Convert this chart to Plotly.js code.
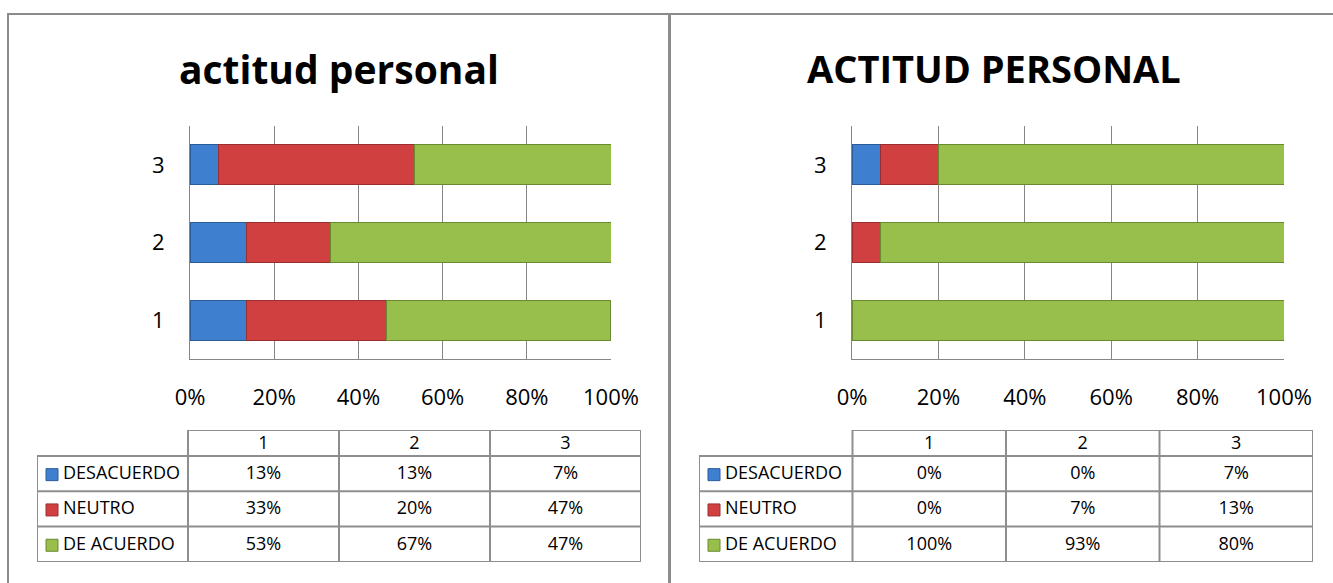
<!DOCTYPE html>
<html>
<head>
<meta charset="utf-8">
<script src="https://cdn.plot.ly/plotly-3.0.1.min.js"></script>
<style>
  html, body { margin: 0; padding: 0; background: #ffffff; }
  #chart { width: 1333px; height: 583px; }
</style>
</head>
<body>
<div id="chart"></div>
<script>
// ---------- data ----------
const categories = ['1', '2', '3'];
const seriesNames = ['DESACUERDO', 'NEUTRO', 'DE ACUERDO'];
const leftTitle = 'actitud personal';
const rightTitle = 'ACTITUD PERSONAL';
const leftDesacuerdo = [13.33, 13.33, 6.67];
const leftNeutro = [33.33, 20.0, 46.67];
const leftDeAcuerdo = [53.33, 66.67, 46.67];
const rightDesacuerdo = [0, 0, 6.67];
const rightNeutro = [0, 6.67, 13.33];
const rightDeAcuerdo = [100, 93.33, 80];
const xTickVals = [0, 20, 40, 60, 80, 100];
const xTickText = ['0%', '20%', '40%', '60%', '80%', '100%'];

// ---------- styling ----------
const W = 1333, H = 583;
const FONT = 'Open Sans, Noto Sans, DejaVu Sans, sans-serif';
const colors = ['#3f7fcf', '#d04040', '#98bf4b'];
const edges = ['#2b5c9a', '#9a2e2e', '#6a8a30'];
const grid = '#868686';
const border = '#8e8e8e';
const px = v => v / W;
const py = v => 1 - v / H;

// table geometry (in table-axis units: x = column index, y = pixel rows)
const HEAD_H = 26, ROW_H = 35.3;
const TABLE_H = HEAD_H + ROW_H * seriesNames.length;

function barTraces(vals, xa, ya) {
  return vals.map((v, i) => ({
    type: 'bar', orientation: 'h', name: seriesNames[i],
    y: categories, x: v, xaxis: xa, yaxis: ya,
    marker: { color: colors[i], line: { color: edges[i], width: 1 } },
    hoverinfo: 'x+name', showlegend: false
  }));
}

function rowCenter(i) { return HEAD_H + ROW_H * i + ROW_H / 2; }

function tableTraces(vals, xa, ya, colW) {
  const tr = [];
  // header labels
  tr.push({
    type: 'scatter', mode: 'text', xaxis: xa, yaxis: ya, hoverinfo: 'skip',
    x: categories.map((c, j) => j + 0.5), y: categories.map(() => HEAD_H / 2 + 1),
    text: categories, textposition: 'middle center',
    textfont: { family: FONT, size: 18, color: '#000000' }, showlegend: false
  });
  // value cells
  const cx = [], cy = [], ct = [];
  vals.forEach((s, i) => s.forEach((v, j) => {
    cx.push(j + 0.5); cy.push(rowCenter(i) + 1); ct.push(Math.round(v) + '%');
  }));
  tr.push({
    type: 'scatter', mode: 'text', xaxis: xa, yaxis: ya, hoverinfo: 'skip',
    x: cx, y: cy, text: ct, textposition: 'middle center',
    textfont: { family: FONT, size: 18, color: '#000000' }, showlegend: false
  });
  // legend keys
  tr.push({
    type: 'scatter', mode: 'markers', xaxis: xa, yaxis: ya, hoverinfo: 'skip',
    x: seriesNames.map(() => -1 + 15 / colW), y: seriesNames.map((n, i) => rowCenter(i) + 1),
    marker: { symbol: 'square', size: 12, color: colors, line: { color: edges, width: 1 } },
    showlegend: false
  });
  // series labels
  tr.push({
    type: 'scatter', mode: 'text', xaxis: xa, yaxis: ya, hoverinfo: 'skip',
    x: seriesNames.map(() => -1 + 26 / colW), y: seriesNames.map((n, i) => rowCenter(i) + 1),
    text: seriesNames, textposition: 'middle right',
    textfont: { family: FONT, size: 18, color: '#000000' }, showlegend: false
  });
  return tr;
}

function tableShapes(xa, ya) {
  const s = [];
  const L = { color: border, width: 2 };
  const n = categories.length;
  s.push({ type: 'line', xref: xa, yref: ya, x0: 0, x1: n, y0: 0, y1: 0, line: L });
  for (let i = 0; i <= seriesNames.length; i++) {
    const y = HEAD_H + ROW_H * i;
    s.push({ type: 'line', xref: xa, yref: ya, x0: -1, x1: n, y0: y, y1: y, line: L });
  }
  s.push({ type: 'line', xref: xa, yref: ya, x0: -1, x1: -1, y0: HEAD_H, y1: TABLE_H, line: L });
  for (let j = 0; j <= n; j++) {
    s.push({ type: 'line', xref: xa, yref: ya, x0: j, x1: j, y0: 0, y1: TABLE_H, line: L });
  }
  return s;
}

const leftVals = [leftDesacuerdo, leftNeutro, leftDeAcuerdo];
const rightVals = [rightDesacuerdo, rightNeutro, rightDeAcuerdo];

const data = []
  .concat(barTraces(leftVals, 'x', 'y'))
  .concat(barTraces(rightVals, 'x2', 'y2'))
  .concat(tableTraces(leftVals, 'x3', 'y3', 151))
  .concat(tableTraces(rightVals, 'x4', 'y4', 153.5));

function xAxis(dom, anchor) {
  return {
    domain: dom, anchor: anchor, range: [0, 100], fixedrange: true,
    tickvals: xTickVals, ticktext: xTickText,
    showgrid: true, gridcolor: grid, gridwidth: 1,
    showline: true, linecolor: grid, linewidth: 1, mirror: false,
    zeroline: false, ticks: '', ticklabelstandoff: 19,
    tickfont: { family: FONT, size: 22, color: '#000000' }
  };
}
function yAxis(anchor) {
  return {
    domain: [py(359), py(126)], anchor: anchor, type: 'category',
    range: [-0.5, 2.5], fixedrange: true,
    showgrid: false, showline: true, linecolor: grid, linewidth: 1,
    zeroline: false, ticks: '', ticklabelstandoff: 20,
    tickfont: { family: FONT, size: 22, color: '#000000' }
  };
}
function tblX(dom, anchor) {
  return { domain: dom, anchor: anchor, range: [-1, 3], visible: false, fixedrange: true };
}
function tblY(anchor) {
  return { domain: [py(430 + TABLE_H), py(430)], anchor: anchor, range: [TABLE_H, 0],
           visible: false, fixedrange: true };
}

const layout = {
  width: W, height: H,
  margin: { l: 0, r: 0, t: 0, b: 0 },
  paper_bgcolor: '#ffffff', plot_bgcolor: 'rgba(0,0,0,0)',
  barmode: 'stack', bargap: 0.485,
  showlegend: false,
  xaxis: xAxis([px(190), px(611)], 'y'),
  yaxis: yAxis('x'),
  xaxis2: xAxis([px(852), px(1284)], 'y2'),
  yaxis2: yAxis('x2'),
  xaxis3: tblX([px(37), px(641)], 'y3'),
  yaxis3: tblY('x3'),
  xaxis4: tblX([px(699), px(1313)], 'y4'),
  yaxis4: tblY('x4'),
  shapes: [
    { type: 'rect', xref: 'paper', yref: 'paper', x0: px(8), x1: px(669), y0: py(600), y1: py(14),
      line: { color: '#8c8c8c', width: 2 }, layer: 'below' },
    { type: 'rect', xref: 'paper', yref: 'paper', x0: px(670), x1: px(1345), y0: py(600), y1: py(14),
      line: { color: '#8c8c8c', width: 2 }, layer: 'below' }
  ].concat(tableShapes('x3', 'y3')).concat(tableShapes('x4', 'y4')),
  annotations: [
    { text: '<b>' + leftTitle + '</b>', xref: 'paper', yref: 'paper', x: px(339), y: py(68),
      xanchor: 'center', yanchor: 'middle', showarrow: false,
      font: { family: FONT, size: 39, color: '#000000' } },
    { text: '<b>' + rightTitle + '</b>', xref: 'paper', yref: 'paper', x: px(994), y: py(68),
      xanchor: 'center', yanchor: 'middle', showarrow: false,
      font: { family: FONT, size: 38, color: '#000000' } }
  ]
};

Plotly.newPlot('chart', data, layout, { displayModeBar: false, staticPlot: true });
</script>
</body>
</html>
